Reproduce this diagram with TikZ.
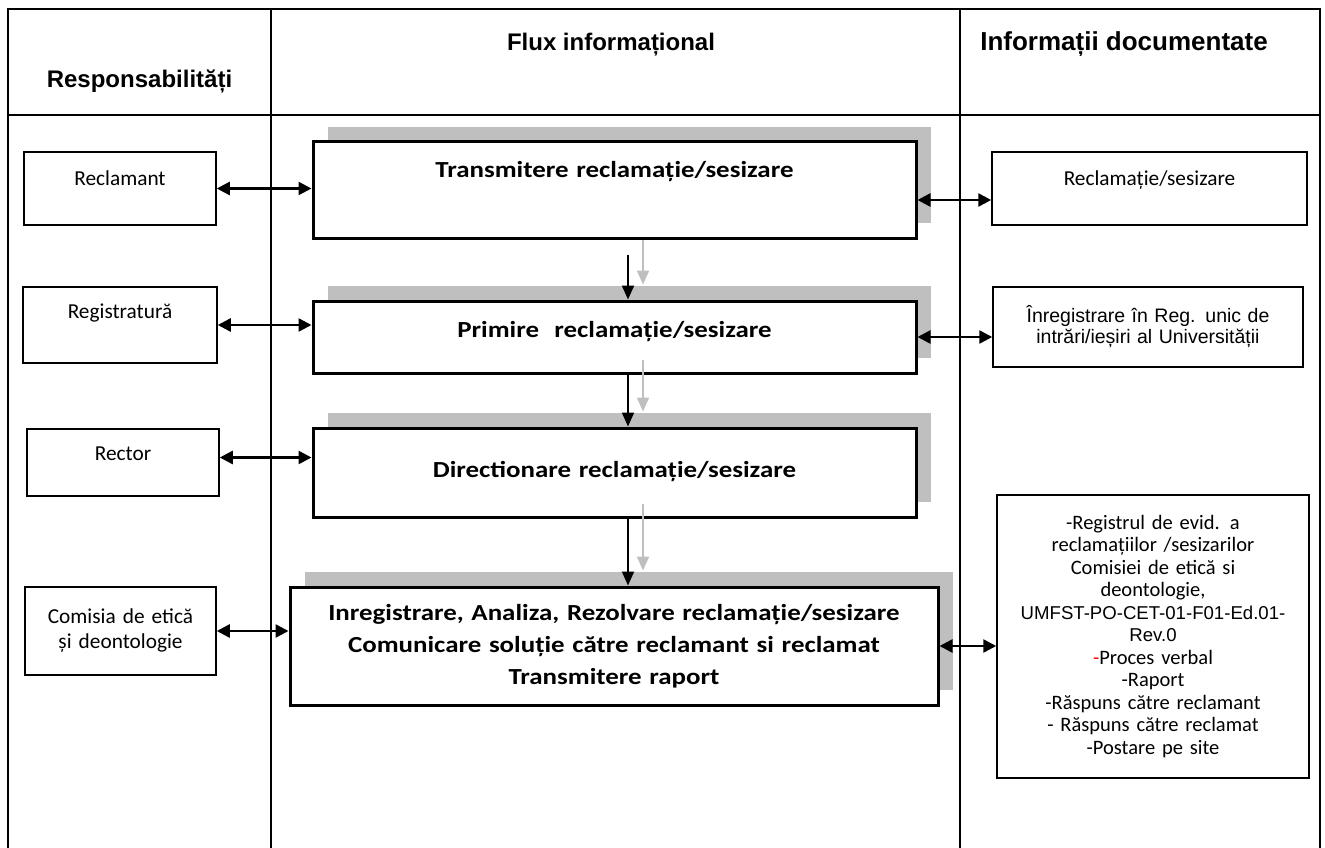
\documentclass[tikz,border=0pt]{standalone}
\usepackage{fontspec}
\setmainfont{Carlito}
\newfontfamily\arialf{Liberation Sans}
\newfontfamily\wideb[FakeStretch=1.17]{Carlito}
\usepackage{tikz}
\usetikzlibrary{arrows.meta}
\usetikzlibrary{shadows}
\tikzset{
  lbox/.style={draw,line width=1.5pt,inner sep=0pt,align=center,font=\fontsize{21.3}{25}\selectfont},
  cbox/.style={draw,line width=3pt,fill=white,inner sep=0pt,align=center,
    font=\wideb\bfseries\fontsize{23}{32}\selectfont,
    drop shadow={shadow xshift=15pt,shadow yshift=15pt,fill=black!25,opacity=1}},
  hdr/.style={anchor=base,font=\arialf\bfseries\fontsize{24}{28}\selectfont},
  dbl/.style={arrows={Triangle[length=13pt,width=13pt]-Triangle[length=13pt,width=13pt]},line width=2.5pt},
  flow/.style={arrows={-Triangle[length=14pt,width=12pt]},line width=2pt},
  flowsh/.style={flow,black!25}
}

\begin{document}
\begin{tikzpicture}[x=1pt,y=-1pt]
\useasboundingbox (0,0) rectangle (1325,848);
\draw[line width=2.3pt] (8,848) -- (8,9) -- (1320,9) -- (1320,848);
\draw[line width=2.3pt] (8,115) -- (1320,115);
\draw[line width=2pt] (271,9) -- (271,848) (960,9) -- (960,848);
\node[hdr] (h1) at (139.5,88) {Responsabilități};
\node[hdr] (h2) at (611,51) {Flux informațional};
\node[hdr,font=\arialf\bfseries\fontsize{26}{30}\selectfont] (h3) at (1124,51) {Informații documentate};

\node[lbox,text width=192pt,text height=33pt,text depth=40pt,anchor=base] (l1) at (120,185) {Reclamant};
\node[lbox,text width=194pt,text height=31pt,text depth=45pt,anchor=base] (l2) at (120,318) {Registratură};
\node[lbox,text width=192pt,text height=31pt,text depth=36pt,anchor=base] (l3) at (123,460) {Rector};
\node[lbox,text width=191pt,minimum height=88pt] (l4) at (120.5,631) {Comisia de etică\\și deontologie};

\node[cbox,text width=603pt,text height=36pt,text depth=60pt,anchor=base] (c1) at (614.5,178) {Transmitere reclamație/sesizare};
\node[cbox,text width=603pt,text height=36pt,text depth=36pt,anchor=base] (c2) at (614.5,337) {Primire\ \ reclamație/sesizare};
\node[cbox,text width=603pt,text height=49pt,text depth=40pt,anchor=base] (c3) at (614.5,477) {Directionare reclamație/sesizare};
\node[cbox,text width=648pt,minimum height=118pt] (c4) at (614,646) {Inregistrare, Analiza, Rezolvare reclamație/sesizare\\Comunicare soluție către reclamant si reclamat\\Transmitere raport};

\node[lbox,text width=315pt,text height=33pt,text depth=40pt,anchor=base] (d1) at (1149.5,185) {Reclamație/sesizare};
\node[lbox,text width=310pt,minimum height=80pt,font=\arialf\fontsize{19.5}{21}\selectfont] (d2) at (1148,327) {Înregistrare în Reg. unic de\\intrări/ieșiri al Universității};
\node[lbox,text width=312pt,minimum height=283pt,font=\fontsize{20.5}{22.5}\selectfont] (d3) at (1153,636.5) {-Registrul de evid. a\\reclamațiilor /sesizarilor\\Comisiei de etică si\\deontologie,\\{\arialf\fontsize{18.6}{22.5}\selectfont UMFST-PO-CET-01-F01-Ed.01-}\\{\arialf\fontsize{18.6}{22.5}\selectfont Rev.0}\\{\color{red}-}Proces verbal\\-Raport\\-Răspuns către reclamant\\- Răspuns către reclamat\\-Postare pe site};

\draw[dbl] (l1.east) -- (l1.east -| c1.west);
\draw[dbl] ([yshift=-10pt]c1.east) -- ([yshift=-10pt]c1.east -| d1.west);
\draw[dbl] (l2.east) -- (l2.east -| c2.west);
\draw[dbl] (c2.east) -- (c2.east -| d2.west);
\draw[dbl] ([yshift=5pt]l3.east) -- ([yshift=5pt]l3.east -| c3.west);
\draw[dbl] (l4.east) -- (l4.east -| c4.west);
\draw[dbl] (c4.east) -- (c4.east -| d3.west);

\draw[flowsh] ([xshift=28.5pt]c1.south) -- ([xshift=28.5pt,yshift=15pt]c2.north);
\draw[flow] ([xshift=13.5pt,yshift=-15pt]c1.south) -- ([xshift=13.5pt]c2.north);
\draw[flowsh] ([xshift=28.5pt,yshift=15pt]c2.south) -- ([xshift=28.5pt,yshift=15pt]c3.north);
\draw[flow] ([xshift=13.5pt]c2.south) -- ([xshift=13.5pt]c3.north);
\draw[flowsh] ([xshift=28.5pt,yshift=15pt]c3.south) -- ([xshift=28.5pt,yshift=15pt]c3.south |- c4.north);
\draw[flow] ([xshift=13.5pt]c3.south) -- ([xshift=13.5pt]c3.south |- c4.north);
\end{tikzpicture}
\end{document}
